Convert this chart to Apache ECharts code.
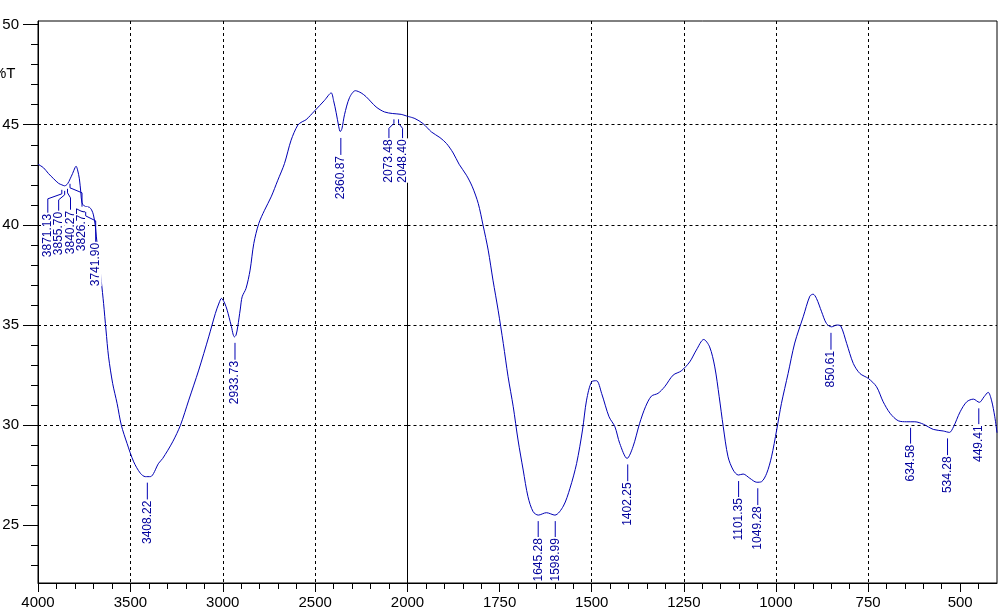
<!DOCTYPE html>
<html>
<head>
<meta charset="utf-8">
<script src="https://cdn.jsdelivr.net/npm/echarts@6/dist/echarts.min.js"></script>
<style>
  html, body { margin: 0; padding: 0; background: #fff; }
  #chart { width: 1005px; height: 611px; }
</style>
</head>
<body>
<div id="chart"></div>
<script>
// wavenumber (cm-1)
var wavenumbers = [
  4000, 3970, 3943, 3915, 3888, 3871, 3856, 3840, 3826, 3813, 3800, 3794, 3786, 3776, 3768, 3762,
  3750, 3735, 3722, 3710, 3700, 3690, 3684, 3670, 3657, 3645, 3632, 3618, 3596, 3572, 3549, 3518,
  3482, 3446, 3419, 3392, 3347, 3325, 3271, 3229, 3184, 3130, 3076, 3040, 3020, 3007, 2990, 2976,
  2955, 2937, 2928, 2919, 2905, 2895, 2874, 2852, 2832, 2805, 2774, 2738, 2702, 2666, 2630, 2594,
  2570, 2549, 2504, 2449, 2413, 2400, 2386, 2372, 2364, 2355, 2341, 2314, 2282, 2251, 2224, 2170,
  2125, 2080, 2035, 2000,
  1980, 1958, 1935, 1912, 1894, 1876, 1860, 1840, 1824, 1808, 1795, 1781, 1768, 1754, 1740, 1727,
  1713, 1700, 1686, 1673, 1659, 1645, 1623, 1600, 1577, 1559, 1541, 1525, 1514, 1500, 1487, 1473,
  1453, 1437, 1424, 1404, 1388, 1370, 1354, 1338, 1320, 1302, 1279, 1257, 1234, 1216, 1196, 1180,
  1166, 1154, 1143, 1130, 1116, 1102, 1089, 1071, 1052, 1039, 1025, 1012, 998, 985, 967, 949,
  926, 908, 899, 890, 876, 863, 849, 835, 824, 808, 790, 772, 749, 727, 709, 690,
  668, 645, 623, 600, 573, 546, 529, 518, 500, 482, 464, 448, 435, 424, 415, 406, 400
];
// %T at each wavenumber
var transmittance = [
  43.03, 42.85, 42.56, 42.3, 42.07, 42.0, 41.95, 42.05, 42.3, 42.56, 42.85, 42.93, 42.75, 42.3, 41.6, 41.1,
  40.95, 40.9, 40.88, 40.75, 40.5, 39.97, 39.4, 38.3, 37.16, 36.08, 34.75, 33.41, 32.09, 31.09, 30.0, 29.09,
  28.17, 27.6, 27.43, 27.43, 28.1, 28.34, 29.17, 30.0, 31.25, 32.75, 34.41, 35.58, 36.1, 36.33, 36.1, 35.74,
  35.0, 34.41, 34.5, 34.91, 35.8, 36.41, 36.83, 37.74, 39.07, 40.07, 40.73, 41.4, 42.23, 43.06, 44.23, 44.98,
  45.15, 45.25, 45.68, 46.22, 46.59, 46.2, 45.6, 44.9, 44.66, 44.8, 45.5, 46.35, 46.7, 46.59, 46.4, 45.89,
  45.64, 45.56, 45.52, 45.42,
  45.31, 45.06, 44.64, 44.36, 44.06, 43.59, 43.03, 42.48, 41.9, 41.07, 39.99, 38.74, 37.24, 35.74, 34.08, 32.42,
  30.92, 29.26, 27.76, 26.43, 25.68, 25.51, 25.63, 25.51, 25.96, 26.85, 28.09, 29.76, 31.25, 32.17, 32.22, 31.58,
  30.42, 29.92, 29.09, 28.34, 28.92, 30.09, 30.92, 31.45, 31.59, 31.92, 32.5, 32.71, 33.16, 33.75, 34.28, 33.91,
  32.91, 31.42, 29.92, 28.42, 27.76, 27.51, 27.56, 27.35, 27.15, 27.18, 27.6, 28.42, 29.76, 31.09, 32.58, 34.1,
  35.41, 36.44, 36.54, 36.33, 35.66, 35.08, 34.91, 35.0, 34.95, 34.08, 33.08, 32.58, 32.33, 31.92, 31.17, 30.59,
  30.22, 30.17, 30.17, 30.05, 29.79, 29.71, 29.64, 29.92, 30.67, 31.17, 31.3, 31.14, 31.42, 31.64, 31.25, 30.42, 29.62
];

// peak picks
var peakWn = [3871.13, 3855.70, 3840.27, 3826.77, 3741.90, 3408.22, 2933.73, 2360.87, 2073.48, 2048.40,
  1645.28, 1598.99, 1402.25, 1101.35, 1049.28, 850.61, 634.58, 534.28, 449.41];
var peakT = [42.0, 41.95, 42.05, 42.3, 40.9, 27.43, 34.41, 44.64, 45.52, 45.52,
  25.51, 25.51, 28.34, 27.51, 27.15, 34.91, 30.17, 29.64, 31.14];

var yTicks = [25, 30, 35, 40, 45, 50];
var xTicksLow = [500, 750, 1000, 1250, 1500, 1750];

// label leader layout (px): sideways shift and drop of text top below the curve
var labelDx = [-14, -6, 3, 12, 10, 0, 0, 0, -5, 4, 0, 0, 0, 0, 0, 0, 0, 0, 0];
var labelDrop = [28, 25, 26, 28, 35, 23, 23, 23, 24, 24, 22, 22, 23, 22, 23, 23, 22, 23, 22];

var lineColor = '#0000b4';
var textColor = '#00009c';
var axisFont = 'Liberation Sans, Arial, sans-serif';

var Y_MIN = 22.12, Y_MAX = 50.18;

var hiData = [], loData = [];
wavenumbers.forEach(function (w, i) {
  if (w >= 2000) hiData.push([w, transmittance[i]]);
  if (w <= 2000) loData.push([w, transmittance[i]]);
});
var hiPeaks = [], loPeaks = [];
peakWn.forEach(function (w, i) {
  (w >= 2000 ? hiPeaks : loPeaks).push([w, peakT[i], i]);
});

var minorY = [];
for (var v = 23; v <= 49; v++) if (v % 5 !== 0) minorY.push(v);
var minorXLow = [];
for (var w = 450; w <= 1950; w += 50) if (w % 250 !== 0) minorXLow.push(w);

function plain(v) { return String(v); }

function renderPeak(params, api) {
  var idx = api.value(2);
  var p = api.coord([api.value(0), api.value(1)]);
  var dx = labelDx[idx], top = p[1] + labelDrop[idx];
  var lx = p[0] + dx;
  var pts = dx === 0
    ? [[p[0], p[1] + 6], [p[0], top]]
    : [[p[0], p[1] + 5], [p[0], p[1] + 9], [lx, p[1] + 14], [lx, top]];
  return {
    type: 'group',
    children: [
      { type: 'polyline', shape: { points: pts }, style: { stroke: lineColor, lineWidth: 1, fill: null } },
      {
        type: 'text', x: lx, y: top, rotation: Math.PI / 2,
        style: {
          text: peakWn[idx].toFixed(2), align: 'right', verticalAlign: 'middle',
          fill: textColor, backgroundColor: '#fff', padding: [0, 1, 0, 0],
          font: '12px "Liberation Sans Narrow", "Arial Narrow", sans-serif'
        }
      }
    ]
  };
}

var dashed = { show: true, showMinLine: false, showMaxLine: false, lineStyle: { color: '#000', type: [3, 3], width: 1 } };

var chart = echarts.init(document.getElementById('chart'));
chart.setOption({
  animation: false,
  backgroundColor: '#fff',
  grid: [
    { left: 38, top: 21, width: 369.5, height: 562, show: true, borderColor: '#000', borderWidth: 1, outerBoundsMode: 'none' },
    { left: 407.5, top: 21, width: 589.5, height: 562, show: true, borderColor: '#000', borderWidth: 1, outerBoundsMode: 'none' }
  ],
  graphic: [
    { type: 'text', left: -7, top: 66, style: { text: '%T', font: '15px ' + axisFont, fill: '#000' } }
  ],
  xAxis: [
    {
      gridIndex: 0, type: 'value', position: 'bottom', min: 2000, max: 4000, interval: 500, inverse: true,
      axisLine: { lineStyle: { color: '#000' } },
      axisTick: { length: 9, lineStyle: { color: '#000' } },
      minorTick: { show: true, splitNumber: 5, length: 6, lineStyle: { color: '#000' } },
      axisLabel: { color: '#000', fontSize: 15, fontFamily: axisFont, margin: 12, formatter: plain },
      splitLine: dashed
    },
    {
      gridIndex: 1, type: 'value', position: 'bottom', min: 400, max: 2000, inverse: true,
      axisLine: { lineStyle: { color: '#000' } },
      axisTick: { length: 9, customValues: xTicksLow, lineStyle: { color: '#000' } },
      axisLabel: { color: '#000', fontSize: 15, fontFamily: axisFont, margin: 12, customValues: xTicksLow, formatter: plain },
      splitLine: dashed
    },
    {
      gridIndex: 1, type: 'value', position: 'bottom', min: 400, max: 2000, inverse: true,
      axisLine: { show: false },
      axisTick: { length: 6, customValues: minorXLow, lineStyle: { color: '#000' } },
      axisLabel: { show: false },
      splitLine: { show: false }
    }
  ],
  yAxis: [
    {
      gridIndex: 0, type: 'value', position: 'left', min: Y_MIN, max: Y_MAX,
      axisLine: { show: true, lineStyle: { color: '#000' } },
      axisTick: { show: true, length: 15, customValues: yTicks, lineStyle: { color: '#000' } },
      axisLabel: { color: '#000', fontSize: 15, fontFamily: axisFont, margin: 19, customValues: yTicks },
      splitLine: dashed
    },
    {
      gridIndex: 0, type: 'value', position: 'left', min: Y_MIN, max: Y_MAX,
      axisLine: { show: false },
      axisTick: { show: true, length: 7, customValues: minorY, lineStyle: { color: '#000' } },
      axisLabel: { show: false },
      splitLine: { show: false }
    },
    {
      gridIndex: 1, type: 'value', position: 'left', min: Y_MIN, max: Y_MAX,
      axisLine: { show: false },
      axisTick: { show: false, customValues: yTicks },
      axisLabel: { show: false },
      splitLine: dashed
    }
  ],
  series: [
    {
      type: 'line', xAxisIndex: 0, yAxisIndex: 0, data: hiData, showSymbol: false, smooth: 0.3,
      lineStyle: { color: lineColor, width: 1 }, z: 3
    },
    {
      type: 'line', xAxisIndex: 1, yAxisIndex: 2, data: loData, showSymbol: false, smooth: 0.3,
      lineStyle: { color: lineColor, width: 1 }, z: 3
    },
    { type: 'custom', xAxisIndex: 0, yAxisIndex: 0, data: hiPeaks, renderItem: renderPeak, z: 10, silent: true },
    { type: 'custom', xAxisIndex: 1, yAxisIndex: 2, data: loPeaks, renderItem: renderPeak, z: 10, silent: true }
  ]
});
</script>
</body>
</html>
